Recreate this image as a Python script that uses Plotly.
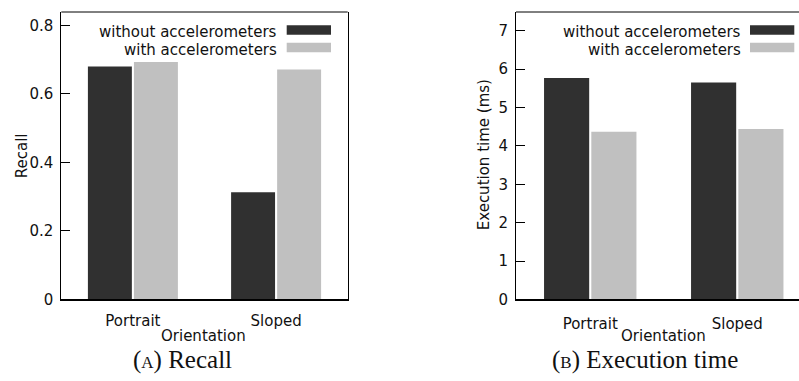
import plotly.graph_objects as go

# ---- data ----
categories = ["Portrait", "Sloped"]
series_names = ["without accelerometers", "with accelerometers"]
recall_without = [0.680, 0.313]
recall_with = [0.693, 0.671]
time_without = [5.77, 5.65]
time_with = [4.37, 4.44]
recall_ticks = [0, 0.2, 0.4, 0.6, 0.8]
recall_ticktext = ["0", "0.2", "0.4", "0.6", "0.8"]
time_ticks = [0, 1, 2, 3, 4, 5, 6, 7]
time_ticktext = ["0", "1", "2", "3", "4", "5", "6", "7"]

W, H = 799, 381
DARK = "#303030"
LIGHT = "#c0c0c0"
FONT = "DejaVu Sans"
FS = 15
colors = [DARK, LIGHT]

def px(x):
    return x / W

def py(y):
    return (H - y) / H

fig = go.Figure()
for name, vals, c in zip(series_names, [recall_without, recall_with], colors):
    fig.add_trace(go.Bar(x=categories, y=vals, name=name, marker=dict(color=c, line=dict(width=0)),
                         xaxis="x", yaxis="y", showlegend=False))
for name, vals, c in zip(series_names, [time_without, time_with], colors):
    fig.add_trace(go.Bar(x=categories, y=vals, name=name, marker=dict(color=c, line=dict(width=0)),
                         xaxis="x2", yaxis="y2", showlegend=False))

ydom = [py(306.7), py(12.3)]
axfont = dict(family=FONT, size=FS, color="#111111")

fig.update_layout(
    width=W, height=H,
    margin=dict(l=0, r=0, t=0, b=0),
    paper_bgcolor="white", plot_bgcolor="white",
    barmode="group", bargap=0.357, bargroupgap=0.045,
    font=dict(family=FONT, size=FS, color="#111111"),
    xaxis=dict(domain=[px(61.3), px(347.7)], range=[-0.5, 1.5], showline=True, linecolor="black",
               linewidth=2, ticks="", tickfont=axfont, showgrid=False, zeroline=False,
               ticklabelstandoff=7, fixedrange=True),
    yaxis=dict(domain=ydom, range=[0, 0.839], showline=True, linecolor="black", linewidth=1,
               mirror=True, ticks="inside", ticklen=9, tickcolor="black", tickvals=recall_ticks,
               ticktext=recall_ticktext, tickfont=axfont, showgrid=False, zeroline=False,
               ticklabelstandoff=4),
    xaxis2=dict(domain=[px(516), 1.0], range=[-0.505, 1.42], anchor="y2", showline=True,
                linecolor="black", linewidth=2, ticks="", tickfont=axfont, showgrid=False,
                zeroline=False, ticklabelstandoff=10),
    yaxis2=dict(domain=ydom, range=[0, 7.49], anchor="x2", showline=True, linecolor="black",
                linewidth=1, mirror=False, ticks="inside", ticklen=9, tickcolor="black",
                tickvals=time_ticks, ticktext=time_ticktext, tickfont=axfont, showgrid=False,
                zeroline=False, ticklabelstandoff=4),
)

shapes = []
annotations = []
# top frame lines
shapes.append(dict(type="line", xref="x domain", yref="y domain", x0=0, x1=1, y0=1, y1=1,
                   line=dict(color="black", width=1)))
shapes.append(dict(type="line", xref="x2 domain", yref="y2 domain", x0=0, x1=1, y0=1, y1=1,
                   line=dict(color="black", width=1)))

# legends (text right-aligned, swatch to the right)
legend_rows_y = [30.7, 48.7]
for text_right, sw0, sw1 in [(278, 286.7, 331), (741.7, 750, 794.3)]:
    for name, c, yy in zip(series_names, colors, legend_rows_y):
        annotations.append(dict(text=name, x=px(text_right), y=py(yy + 2.5), xref="paper", yref="paper",
                                xanchor="right", yanchor="middle", showarrow=False, borderpad=0,
                                font=dict(family=FONT, size=FS, color="#111111")))
        shapes.append(dict(type="rect", xref="paper", yref="paper", x0=px(sw0), x1=px(sw1),
                           y0=py(yy + 4.8), y1=py(yy - 4.8), fillcolor=c, line=dict(width=0)))

# axis titles
annotations.append(dict(text="Orientation", x=px(203.5), y=py(344), xref="paper", yref="paper",
                        xanchor="center", yanchor="middle", showarrow=False, borderpad=0))
annotations.append(dict(text="Orientation", x=px(663.3), y=py(344), xref="paper", yref="paper",
                        xanchor="center", yanchor="middle", showarrow=False, borderpad=0))
annotations.append(dict(text="Recall", x=px(22), y=py(160), xref="paper", yref="paper",
                        xanchor="center", yanchor="middle", showarrow=False, textangle=-90,
                        borderpad=0))
annotations.append(dict(text="Execution time (ms)", x=px(484), y=py(159), xref="paper", yref="paper",
                        xanchor="center", yanchor="middle", showarrow=False, textangle=-90,
                        borderpad=0))
# captions
cap_font = dict(family="Liberation Serif", size=25, color="#111111")
annotations.append(dict(text="(<span style='font-size:17px'>A</span>) Recall", x=px(182.7), y=py(369),
                        xref="paper", yref="paper", xanchor="center", yanchor="middle",
                        showarrow=False, font=cap_font, borderpad=0))
annotations.append(dict(text="(<span style='font-size:17px'>B</span>) Execution time", x=px(645),
                        y=py(369), xref="paper", yref="paper", xanchor="center", yanchor="middle",
                        showarrow=False, font=cap_font, borderpad=0))

fig.update_layout(shapes=shapes, annotations=annotations)
fig.write_html("out.html", config={"displayModeBar": False},
               post_script="document.body.style.margin='0';document.body.style.overflow='hidden';")
